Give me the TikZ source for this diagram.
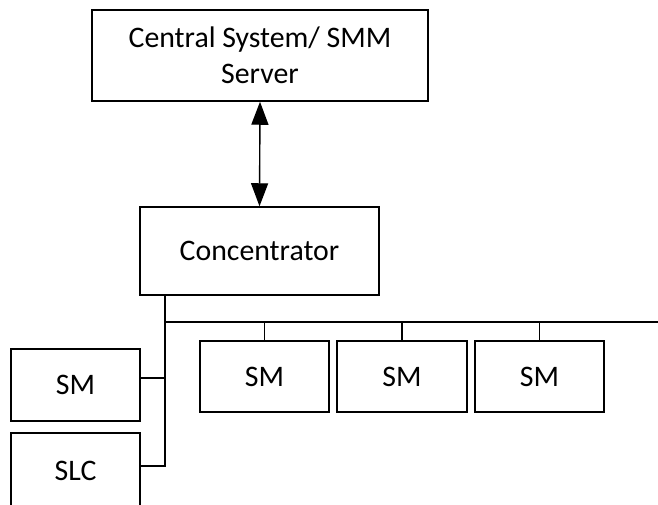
\documentclass[tikz,border=0pt]{standalone}
\usepackage{fontspec}
\setmainfont{Carlito}
\usetikzlibrary{arrows.meta}
\begin{document}
\begin{tikzpicture}[x=1pt,y=-1pt,
  box/.style={draw=black,line width=1.5pt,inner sep=0pt,align=center,
    font=\fontsize{29.8}{36}\selectfont,text=black},
  wire/.style={draw=black,line width=1.4pt},
  dblarrow/.style={draw=black,line width=1.4pt,{Triangle[length=23pt,width=17pt]}-{Triangle[length=23pt,width=17pt]}}]
\useasboundingbox (0,0) rectangle (658,504);
\node[box,minimum width=336pt,minimum height=91pt] (srv) at (260,55.5) {Central System/ SMM\\Server};
\node[box,minimum width=239pt,minimum height=88pt] (conc) at (259.5,251) {Concentrator};
\node[box,minimum width=129pt,minimum height=72pt] (lsm) at (75.5,385) {SM};
\node[box,minimum width=129pt,minimum height=80pt] (slc) at (75.5,473) {\raisebox{4pt}{SLC}};
\node[box,minimum width=129pt,minimum height=71pt] (sm1) at (264.5,376.5) {SM};
\node[box,minimum width=130pt,minimum height=71pt] (sm2) at (402,376.5) {SM};
\node[box,minimum width=129pt,minimum height=71pt] (sm3) at (539.5,376.5) {SM};
\draw[dblarrow] (srv.south) -- (conc.north);
\coordinate (sptop) at (165,295);
\coordinate (spbot) at (165,466);
\coordinate (bus) at (165,322);
\coordinate (busend) at (658,322);
\draw[wire] (sptop) -- (spbot) -- (slc.east |- spbot);
\draw[wire] (lsm.east |- 0,378) -- (165,378);
\draw[wire] (bus) -- (busend);
\draw[wire] (sm1.north) -- (sm1.north |- bus);
\draw[wire] (sm2.north) -- (sm2.north |- bus);
\draw[wire] (sm3.north) -- (sm3.north |- bus);
\end{tikzpicture}
\end{document}
